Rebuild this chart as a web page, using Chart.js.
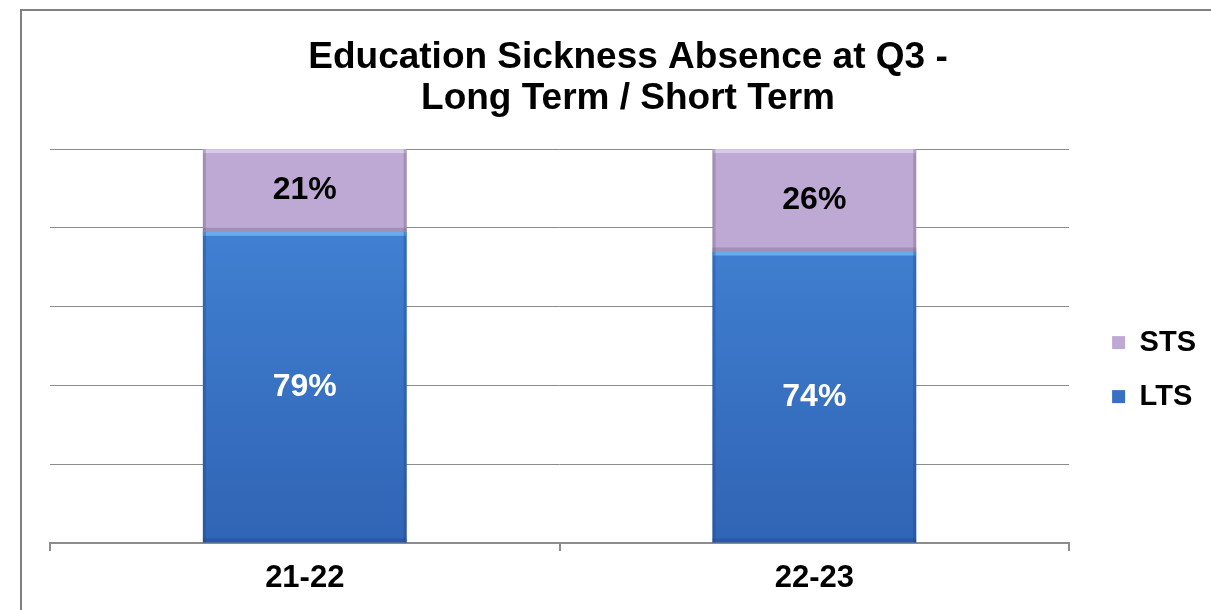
<!DOCTYPE html>
<html>
<head>
<meta charset="utf-8">
<script src="https://cdn.jsdelivr.net/npm/chart.js@4"></script>
<style>
  html, body { margin: 0; padding: 0; background: #fff; }
  #wrap { position: relative; width: 1211px; height: 610px; overflow: hidden; }
  #frame { position: absolute; left: 20px; top: 9px; width: 1200px; height: 700px;
           border-top: 2px solid #808080; border-left: 2px solid #808080; }
  canvas { position: absolute; left: 0; top: 0; }
</style>
</head>
<body>
<div id="wrap">
  <div id="frame"></div>
  <canvas id="myChart" width="1211" height="610"></canvas>
</div>
<script>
var categories = ['21-22', '22-23'];
var ltsValues = [79, 74];
var stsValues = [21, 26];
var yTicks = [0, 20, 40, 60, 80, 100];

var FONT = '"Liberation Sans", Arial, sans-serif';

// light/dark edges so the bars look bevelled like the original
var bevel = {
    id: 'bevel',
    afterDatasetsDraw: function(chart) {
        var ctx = chart.ctx;
        ctx.save();
        chart.data.datasets.forEach(function(ds, i) {
            chart.getDatasetMeta(i).data.forEach(function(bar) {
                var half = bar.width / 2;
                var x0 = bar.x - half, x1 = bar.x + half;
                var top = bar.y, bot = bar.base;
                ctx.fillStyle = ds.hiColor;
                ctx.fillRect(x0, top, x1 - x0, 4);
                ctx.fillStyle = ds.loColor;
                ctx.fillRect(x0, bot - 4, x1 - x0, 4);
                ctx.fillRect(x0, top, 3, bot - top);
                ctx.fillRect(x1 - 3, top, 3, bot - top);
            });
        });
        ctx.restore();
    }
};

// % labels in the middle of each segment
var barLabels = {
    id: 'barLabels',
    afterDatasetsDraw: function(chart) {
        var ctx = chart.ctx;
        ctx.save();
        ctx.font = 'bold 32px ' + FONT;
        ctx.textAlign = 'center';
        ctx.textBaseline = 'middle';
        chart.data.datasets.forEach(function(ds, i) {
            chart.getDatasetMeta(i).data.forEach(function(bar, j) {
                ctx.fillStyle = ds.labelColor;
                ctx.fillText(ds.data[j] + '%', bar.x, (bar.y + bar.base) / 2);
            });
        });
        ctx.restore();
    }
};

function ltsFill(context) {
    var area = context.chart.chartArea;
    if (!area) return '#3F7FD0';
    var g = context.chart.ctx.createLinearGradient(0, area.top, 0, area.bottom);
    g.addColorStop(0, '#4487DA');
    g.addColorStop(1, '#3164B4');
    return g;
}

document.addEventListener("DOMContentLoaded", function() {
    var ctx = document.getElementById('myChart').getContext('2d');

    var myChart = new Chart(ctx, {
        type: 'bar',
        data: {
            labels: categories,
            datasets: [{
                label: 'LTS',
                data: ltsValues,
                backgroundColor: ltsFill,
                borderColor: '#2D5CA0',
                borderWidth: 0,
                hiColor: 'rgba(120,185,245,0.75)',
                loColor: 'rgba(30,70,140,0.35)',
                labelColor: '#ffffff',
                barPercentage: 0.4,
                categoryPercentage: 1.0
            }, {
                label: 'STS',
                data: stsValues,
                backgroundColor: '#BDA9D3',
                borderColor: '#8D7CA3',
                borderWidth: 0,
                hiColor: 'rgba(225,210,240,0.8)',
                loColor: 'rgba(110,95,130,0.35)',
                labelColor: '#000000',
                barPercentage: 0.4,
                categoryPercentage: 1.0
            }]
        },
        options: {
            responsive: false,
            animation: false,
            layout: {
                padding: { left: 50, right: 5, top: 8, bottom: 4 }
            },
            scales: {
                x: {
                    stacked: true,
                    grid: {
                        offset: true,
                        drawOnChartArea: false,
                        drawTicks: true,
                        tickLength: 8,
                        color: '#8c8c8c',
                        lineWidth: 2
                    },
                    border: { color: '#8c8c8c', width: 2 },
                    ticks: {
                        color: '#000',
                        padding: 12,
                        font: { family: FONT, size: 31, weight: 'bold', lineHeight: 1.0 }
                    }
                },
                y: {
                    stacked: true,
                    min: 0,
                    max: 100,
                    afterBuildTicks: function(axis) {
                        axis.ticks = yTicks.map(function(v) { return { value: v }; });
                    },
                    ticks: { display: false },
                    grid: { color: '#8c8c8c', lineWidth: 1, drawTicks: false },
                    border: { display: false }
                },
                // empty spacer between plot and legend
                gap: {
                    type: 'linear',
                    position: 'right',
                    display: true,
                    ticks: { display: false },
                    grid: { display: false, drawTicks: false },
                    border: { display: false },
                    afterFit: function(axis) { axis.width = 18; }
                }
            },
            plugins: {
                title: {
                    display: true,
                    text: ['Education Sickness Absence at Q3 -', 'Long Term / Short Term'],
                    color: '#000',
                    font: { family: FONT, size: 37, weight: 'bold', lineHeight: 1.11 },
                    padding: { top: 29, bottom: 30 }
                },
                legend: {
                    position: 'right',
                    reverse: true,
                    title: { display: true, text: ' ', font: { size: 1 }, padding: { top: 124, bottom: 0 } },
                    labels: {
                        color: '#000',
                        boxWidth: 13,
                        boxHeight: 13,
                        padding: 25,
                        font: { family: FONT, size: 29, weight: 'bold' }
                    }
                },
                tooltip: { enabled: false }
            }
        },
        plugins: [bevel, barLabels]
    });
});
</script>
</body>
</html>
